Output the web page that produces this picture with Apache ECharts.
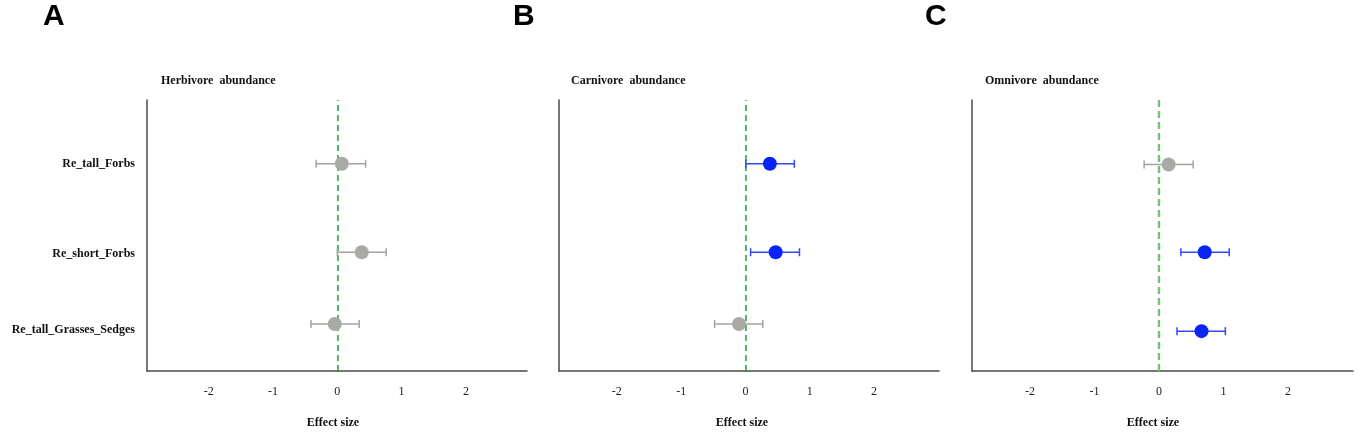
<!DOCTYPE html>
<html>
<head>
<meta charset="utf-8">
<script src="https://cdn.jsdelivr.net/npm/echarts@6/dist/echarts.min.js"></script>
<style>
html,body{margin:0;padding:0;background:#fff;}
#chart{width:1358px;height:434px;}
</style>
</head>
<body>
<div id="chart"></div>
<script>
// ---- data ----
var rows = ['Re_tall_Forbs', 'Re_short_Forbs', 'Re_tall_Grasses_Sedges'];
var rowLabelY = [2.60, 1.47, 0.51];
var xTicks = [-2, -1, 0, 1, 2];
var panelTitles = ['Herbivore  abundance', 'Carnivore  abundance', 'Omnivore  abundance'];
var panelLetters = ['A', 'B', 'C'];
var xAxisTitle = 'Effect size';

var herbEst  = [0.07, 0.38, -0.04];
var herbLow  = [-0.33, 0.00, -0.41];
var herbHigh = [0.44, 0.76, 0.34];
var herbSig  = [0, 0, 0];
var herbRowY = [2.60, 1.49, 0.59];

var carnEst  = [0.38, 0.47, -0.10];
var carnLow  = [0.005, 0.08, -0.48];
var carnHigh = [0.76, 0.84, 0.27];
var carnSig  = [1, 1, 0];
var carnRowY = [2.60, 1.49, 0.59];

var omniEst  = [0.15, 0.71, 0.66];
var omniLow  = [-0.23, 0.34, 0.28];
var omniHigh = [0.53, 1.09, 1.03];
var omniSig  = [0, 1, 1];
var omniRowY = [2.59, 1.49, 0.50];

// ---- layout / style ----
var grids = [
  {left: 147, width: 380, top: 100, bottom: 63, outerBoundsMode: 'none', containLabel: false},
  {left: 559, width: 380, top: 100, bottom: 63, outerBoundsMode: 'none', containLabel: false},
  {left: 972, width: 381, top: 100, bottom: 63, outerBoundsMode: 'none', containLabel: false}
];
var xRanges = [[-2.96, 2.95], [-2.90, 3.01], [-2.90, 3.01]];
var titleX = [161, 571, 985];
var letterX = [43, 513, 925];
var axisTitleX = [333, 742, 1153];
var dashStyles = [
  {color: '#17a332', width: 1.5, type: [6, 4]},
  {color: '#17a332', width: 1.5, type: [6, 4]},
  {color: '#74c477', width: 2.4, type: [7, 4]}
];
var grey = '#aaa9a5', greyBar = '#a3a3a3';
var blue = '#0a24f5', blueBar = '#3348f7';
var serif = '"Liberation Serif", "DejaVu Serif", serif';

var panels = [
  {est: herbEst, low: herbLow, high: herbHigh, sig: herbSig, y: herbRowY},
  {est: carnEst, low: carnLow, high: carnHigh, sig: carnSig, y: carnRowY},
  {est: omniEst, low: omniLow, high: omniHigh, sig: omniSig, y: omniRowY}
];

var xAxes = [], yAxes = [], series = [], graphics = [];
panels.forEach(function (p, i) {
  xAxes.push({
    type: 'value', gridIndex: i, min: xRanges[i][0], max: xRanges[i][1],
    splitLine: {show: false},
    axisTick: {show: false},
    axisLine: {show: true, onZero: false, lineStyle: {color: '#4a4a4a', width: 1.5}},
    axisLabel: {customValues: xTicks, color: '#222', fontFamily: serif, fontSize: 12, margin: 15}
  });
  yAxes.push({
    type: 'value', gridIndex: i, min: 0, max: 3.4,
    splitLine: {show: false},
    axisTick: {show: false},
    axisLine: {show: true, onZero: false, lineStyle: {color: '#4a4a4a', width: 1.5}},
    axisLabel: i === 0 ? {
      customValues: rowLabelY, margin: 12,
      fontFamily: serif, fontWeight: 'bold', fontSize: 12, color: '#111',
      formatter: function (v) {
        var k = 0, best = 1e9;
        rowLabelY.forEach(function (ry, j) { if (Math.abs(ry - v) < best) { best = Math.abs(ry - v); k = j; } });
        return rows[k];
      }
    } : {show: false}
  });

  var ebData = p.est.map(function (e, j) { return [p.low[j], p.high[j], p.y[j], p.sig[j]]; });
  series.push({
    type: 'custom', xAxisIndex: i, yAxisIndex: i, data: ebData, z: 3,
    renderItem: function (params, api) {
      var l = api.coord([api.value(0), api.value(2)]);
      var h = api.coord([api.value(1), api.value(2)]);
      var col = api.value(3) ? blueBar : greyBar;
      var cap = 4;
      var st = {stroke: col, lineWidth: 1.5, fill: null};
      return {type: 'group', children: [
        {type: 'line', shape: {x1: l[0], y1: l[1], x2: h[0], y2: h[1]}, style: st},
        {type: 'line', shape: {x1: l[0], y1: l[1] - cap, x2: l[0], y2: l[1] + cap}, style: st},
        {type: 'line', shape: {x1: h[0], y1: h[1] - cap, x2: h[0], y2: h[1] + cap}, style: st}
      ]};
    }
  });
  series.push({
    type: 'scatter', xAxisIndex: i, yAxisIndex: i, symbolSize: 14, z: 5,
    data: p.est.map(function (e, j) {
      return {value: [e, p.y[j]], itemStyle: {color: p.sig[j] ? blue : grey, opacity: 1}};
    }),
    markLine: {
      silent: true, symbol: 'none', z: 2,
      label: {show: false},
      lineStyle: dashStyles[i],
      data: [{xAxis: 0}]
    }
  });

  graphics.push({
    type: 'text', left: titleX[i], top: 75,
    style: {text: panelTitles[i], fontFamily: serif, fontWeight: 'bold', fontSize: 12, fill: '#111'}
  });
  graphics.push({
    type: 'text', x: axisTitleX[i], y: 423,
    style: {text: xAxisTitle, fontFamily: serif, fontWeight: 'bold', fontSize: 12, fill: '#111', align: 'center', verticalAlign: 'middle'}
  });
  graphics.push({
    type: 'text', left: letterX[i], top: 2,
    style: {text: panelLetters[i], fontFamily: '"Liberation Sans", Arial, sans-serif', fontWeight: 'bold', fontSize: 30, fill: '#000'}
  });
});

var chart = echarts.init(document.getElementById('chart'));
chart.setOption({
  animation: false,
  backgroundColor: '#fff',
  grid: grids,
  xAxis: xAxes,
  yAxis: yAxes,
  series: series,
  graphic: graphics
});
</script>
</body>
</html>
